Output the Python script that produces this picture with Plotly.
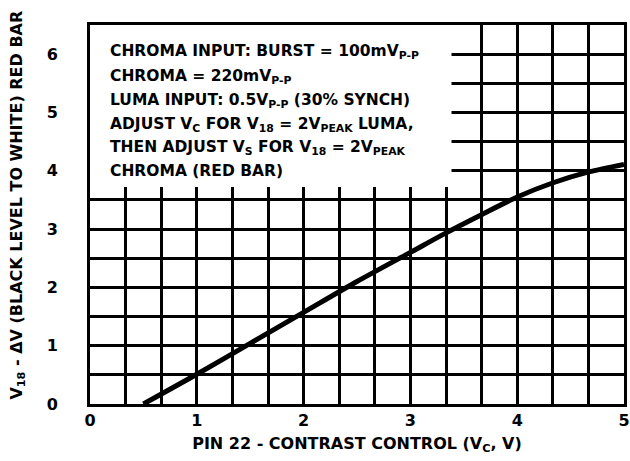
import plotly.graph_objects as go

# ---- data ----
contrast_v = [0.5, 1.0, 1.5, 2.0, 2.5, 3.0, 3.33, 3.67, 4.0, 4.33, 4.67, 5.0]
delta_v = [0.0, 0.51, 1.04, 1.57, 2.1, 2.6, 2.93, 3.25, 3.55, 3.79, 3.98, 4.11]

x_tick_values = [0, 1, 2, 3, 4, 5]
x_tick_labels = ["0", "1", "2", "3", "4", "5"]
y_tick_values = [0, 1, 2, 3, 4, 5, 6]
y_tick_labels = ["0", "1", "2", "3", "4", "5", "6"]

note_lines = [
    "CHROMA INPUT: BURST = 100mV<sub>P-P</sub>",
    "CHROMA = 220mV<sub>P-P</sub>",
    "LUMA INPUT: 0.5V<sub>P-P</sub> (30% SYNCH)",
    "ADJUST V<sub>C</sub> FOR V<sub>18</sub> = 2V<sub>PEAK</sub> LUMA,",
    "THEN ADJUST V<sub>S</sub> FOR V<sub>18</sub> = 2V<sub>PEAK</sub>",
    "CHROMA (RED BAR)",
]
note_y = [6.03, 5.61, 5.2, 4.79, 4.39, 3.99]

x_title = "PIN 22 - CONTRAST CONTROL (V<sub>C</sub>, V)"
y_title = "V<sub>18</sub> - ΔV (BLACK LEVEL TO WHITE) RED BAR"

FONT = "DejaVu Sans"

# minor grid positions: x every 1/3 V, y every 0.5 V
x_grid = [i / 3 for i in range(16)]
y_grid = [i / 2 for i in range(14)]

fig = go.Figure()
fig.add_trace(go.Scatter(
    x=contrast_v, y=delta_v, mode="lines",
    line=dict(color="black", width=5, shape="spline", smoothing=0.8),
    hoverinfo="skip", showlegend=False,
))

# white note box hiding the grid
fig.add_shape(type="rect", xref="x", yref="y", x0=0, x1=3.385, y0=3.72, y1=6.5,
              fillcolor="white", line=dict(width=0), layer="between")

for txt, yy in zip(note_lines, note_y):
    fig.add_annotation(x=0.167, y=yy, xref="x", yref="y", text=txt, showarrow=False,
                       xanchor="left", yanchor="middle",
                       font=dict(family=FONT, size=15.5, color="black", weight="bold"))

fig.add_annotation(x=-0.1375, y=0.525, xref="paper", yref="paper", text=y_title,
                   textangle=-90, showarrow=False, xanchor="center", yanchor="middle",
                   font=dict(family=FONT, size=16, color="black", weight="bold"))

fig.update_xaxes(
    range=[0, 5], tickmode="array", tickvals=x_tick_values, ticktext=x_tick_labels,
    showgrid=True, gridcolor="black", gridwidth=3, zeroline=False,
    minor=dict(tickmode="array", tickvals=x_grid, showgrid=True,
               gridcolor="black", gridwidth=3, ticks=""),
    showline=True, linecolor="black", linewidth=3, mirror=True,
    ticks="", ticklabeloverflow="allow",
    tickfont=dict(family=FONT, size=16, color="black", weight="bold"),
    title=dict(text=x_title, standoff=9,
               font=dict(family=FONT, size=16, color="black", weight="bold")),
)
fig.update_yaxes(
    range=[0, 6.5], tickmode="array", tickvals=y_tick_values, ticktext=y_tick_labels,
    showgrid=True, gridcolor="black", gridwidth=3, zeroline=False,
    minor=dict(tickmode="array", tickvals=y_grid, showgrid=True,
               gridcolor="black", gridwidth=3, ticks=""),
    showline=True, linecolor="black", linewidth=3, mirror=True,
    ticks="outside", ticklen=26, tickcolor="rgba(0,0,0,0)",
    tickfont=dict(family=FONT, size=16, color="black", weight="bold"),
)

fig.update_layout(
    width=630, height=461,
    margin=dict(l=90, r=6, t=25, b=57, autoexpand=False),
    paper_bgcolor="white", plot_bgcolor="white",
    showlegend=False,
)

fig.write_html(
    "out.html",
    config={"displayModeBar": False},
    post_script="document.body.style.margin='0';document.body.style.overflow='hidden';",
)
